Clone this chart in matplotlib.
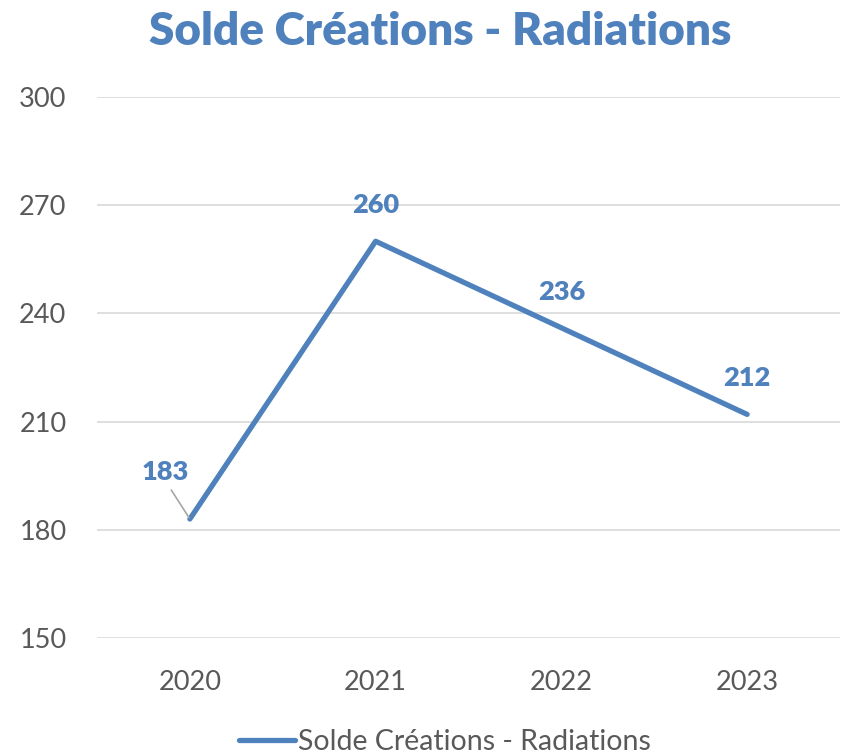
import matplotlib
matplotlib.use("Agg")
import matplotlib.pyplot as plt

years = ["2020", "2021", "2022", "2023"]
values = [183, 260, 236, 212]
yticks = [150, 180, 210, 240, 270, 300]
series_name = "Solde Créations - Radiations"
title = "Solde Créations - Radiations"

plt.rcParams['font.family'] = ['Lato', 'DejaVu Sans']
blue = "#4F81BD"
grey = "#595959"

fig = plt.figure(figsize=(8.43, 7.54), dpi=100)
ax = fig.add_axes([97/843, 1-638/754, (840-97)/843, (638-97)/754])

x = list(range(len(years)))
line, = ax.plot(x, values, color=blue, lw=3.8, solid_capstyle='round', solid_joinstyle='round', label=series_name, zorder=3)

ax.set_xlim(-0.5, 3.5)
ax.set_ylim(150, 300)
ax.set_yticks(yticks)
ax.set_xticks(x)
ax.set_xticklabels(years)
ax.tick_params(axis='both', length=0, labelsize=19.5, labelcolor=grey)
ax.tick_params(axis='y', pad=22)
ax.tick_params(axis='x', pad=23)
for s in ax.spines.values():
    s.set_visible(False)
ax.grid(axis='y', color="#d9d9d9", lw=1.2)
ax.set_axisbelow(True)

# data labels
offsets = [(-18, 34), (0, 26), (0, 26), (0, 26)]
for i, (xi, v) in enumerate(zip(x, values)):
    dx, dy = offsets[i]
    if i == 0:
        ax.annotate(str(v), xy=(xi, v), xytext=(dx, dy), textcoords='offset points',
                    ha='center', va='center', fontsize=19.5, fontweight='heavy', color=blue,
                    arrowprops=dict(arrowstyle='-', color='#a6a6a6', lw=1.2, relpos=(0.55, 0.0),
                                    shrinkA=3, shrinkB=1))
    else:
        ax.annotate(str(v), xy=(xi, v), xytext=(dx, dy), textcoords='offset points',
                    ha='center', va='center', fontsize=19.5, fontweight='heavy', color=blue)

fig.text(0.522, 0.958, title, ha='center', va='center', fontsize=33, fontweight='heavy', color=blue)

leg = fig.legend(handles=[line], loc='center', bbox_to_anchor=(0.528, 0.016), frameon=False,
                 fontsize=20.5, handlelength=1.95, handletextpad=0.1, borderaxespad=0)
for t in leg.get_texts():
    t.set_color(grey)

fig.savefig("out.png", dpi=100)
